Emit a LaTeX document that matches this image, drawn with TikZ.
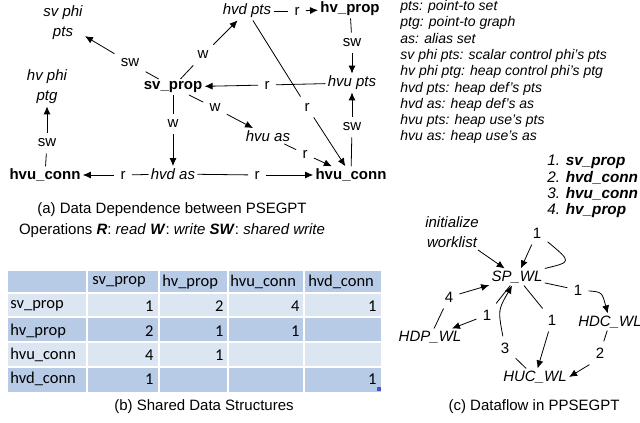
\documentclass[tikz,border=0pt]{standalone}
\usepackage{fontspec}
\setmainfont{Liberation Sans}
\newfontfamily\cellfont{Carlito}
\usetikzlibrary{arrows.meta,positioning}
\definecolor{celldark}{RGB}{183,202,230}
\definecolor{celllight}{RGB}{220,229,242}
\definecolor{handleblue}{RGB}{68,84,196}

\begin{document}
\begin{tikzpicture}[
  x=1pt, y=-1pt, line width=0.8pt,
  op/.style={font=\fontsize{15}{18}\selectfont\bfseries, inner sep=2pt},
  ds/.style={font=\fontsize{15}{20}\selectfont\itshape, inner sep=2pt, align=center},
  lbl/.style={font=\fontsize{15}{18}\selectfont, inner sep=6pt},
  dep/.style={-{Latex[length=8pt,width=7pt]}},
  subcap/.style={font=\fontsize{15}{21}\selectfont, align=center},
  cell/.style={font=\cellfont\fontsize{16.5}{19}\selectfont, inner sep=0pt}
]
\useasboundingbox (0,0) rectangle (640,423);

% (a) data dependence between operations
\node[ds] (svphi) at (63,23) {sv phi\\pts};
\node[ds] (hvphi) at (47,87) {hv phi\\ptg};
\node[ds] (hvdpts) at (247,11) {hvd pts};
\node[op] (hvprop) at (350,9) {hv\_prop};
\node[op] (svprop) at (173,87) {sv\_prop};
\node[ds] (hvupts) at (352,83) {hvu pts};
\node[ds] (hvuas) at (268,136) {hvu as};
\node[ds] (hvdas) at (173,174) {hvd as};
\node[op] (hvuconnL) at (45,175) {hvu\_conn};
\node[op] (hvuconnR) at (351,175) {hvu\_conn};

\node[lbl] (lsw1) at (130,63) {sw};
\node[lbl] (lw1) at (203,55) {w};
\node[lbl] (lr1) at (297,11) {r};
\node[lbl] (lsw2) at (352,43) {sw};
\node[lbl] (lr2) at (267,85) {r};
\node[lbl] (lw2) at (215,108) {w};
\node[lbl] (lw3) at (173,124) {w};
\node[lbl] (lr3) at (307,107) {r};
\node[lbl] (lsw3) at (352,127) {sw};
\node[lbl] (lr4) at (305,154) {r};
\node[lbl] (lr5) at (123,175) {r};
\node[lbl] (lr6) at (257,175) {r};
\node[lbl] (lsw4) at (47,143) {sw};

\draw (svprop) -- (lsw1); \draw[dep] (lsw1) -- (svphi);
\draw (svprop) -- (lw1); \draw[dep] (lw1) -- (hvdpts);
\draw (hvdpts) -- (lr1); \draw[dep] (lr1) -- (hvprop);
\draw (hvprop) -- (lsw2); \draw[dep] (lsw2) -- (hvupts);
\draw (hvupts) -- (lr2); \draw[dep] (lr2) -- (svprop);
\draw (svprop) -- (lw2); \draw[dep] (lw2) -- (hvuas);
\draw (svprop) -- (lw3); \draw[dep] (lw3) -- (hvdas);
\draw (hvdpts) -- (lr3); \draw[dep] (lr3) -- (hvuconnR);
\draw (hvuconnR) -- (lsw3); \draw[dep] (lsw3) -- (hvupts);
\draw (hvuas) -- (lr4); \draw[dep] (lr4) -- (hvuconnR);
\draw (hvdas) -- (lr5); \draw[dep] (lr5) -- (hvuconnL);
\draw (hvdas) -- (lr6); \draw[dep] (lr6) -- (hvuconnR);
\draw (hvuconnL) -- (lsw4); \draw[dep] (lsw4) -- (hvphi);

\node[subcap] (capa) at (172,220) {(a) Data Dependence between PSEGPT\\
  Operations \textbf{\textit{R}}: \textit{read} \textbf{\textit{W}}: \textit{write} \textbf{\textit{SW}}: \textit{shared write}};

% glossary and order
\node[anchor=north west, inner sep=0pt, align=left, font=\fontsize{14}{16.3}\selectfont\itshape] (gloss) at (400,0) {%
  pts: point-to set\\
  ptg: point-to graph\\
  as: alias set\\
  sv phi pts: scalar control phi's pts\\
  hv phi ptg: heap control phi's ptg\\
  hvd pts: heap def's pts\\
  hvd as: heap def's as\\
  hvu pts: heap use's pts\\
  hvu as: heap use's as};
\node[anchor=north west, inner sep=0pt, align=left, font=\fontsize{15.3}{16.3}\selectfont\itshape] (order) at (547,155) {%
  1. \textbf{sv\_prop}\\
  2. \textbf{hvd\_conn}\\
  3. \textbf{hvu\_conn}\\
  4. \textbf{hv\_prop}};

% (b) shared data structures
\fill[celldark] (8,271) rectangle (381,293);
\fill[celllight] (8,293) rectangle (381,317);
\fill[celldark] (8,317) rectangle (381,342);
\fill[celllight] (8,342) rectangle (381,367);
\fill[celldark] (8,367) rectangle (381,392);
\foreach \x in {87,159,228,304}
  \draw[white, line width=1.5pt] (\x,271) -- (\x,392);
\foreach \y in {293,317,342,367}
  \draw[white, line width=1.5pt] (8,\y) -- (381,\y);
\foreach \name/\x [count=\i] in {sv\_prop/92, hv\_prop/162, hvu\_conn/230, hvd\_conn/308}
  \node[cell, anchor=west] (col\i) at (\x,282) {\name};
\foreach \name/\y [count=\i] in {sv\_prop/306, hv\_prop/331, hvu\_conn/355, hvd\_conn/379}
  \node[cell, anchor=west] (row\i) at (10,\y) {\name};
\foreach \v/\x/\y [count=\i] in {1/154/306, 2/224/306, 4/300/306, 1/377/306,
    2/154/331, 1/224/331, 1/300/331, 4/154/355, 1/224/355, 1/154/379, 1/377/379}
  \node[cell, anchor=east] (val\i) at (\x,\y) {\v};
\fill[handleblue] (377,387) rectangle (381,391);
\node[subcap] (capb) at (204,407) {(b) Shared Data Structures};

% (c) dataflow between worklists
\node[ds] (init) at (452,232) {initialize\\worklist};
\node[ds] (spwl) at (517,277) {SP\_WL};
\node[ds] (hdpwl) at (430,337) {HDP\_WL};
\node[ds] (hdcwl) at (610,322) {HDC\_WL};
\node[ds] (hucwl) at (535,377) {HUC\_WL};

\node[lbl] (c1a) at (537,233) {1};
\node[lbl] (c1b) at (578,290) {1};
\node[lbl] (c1c) at (552,320) {1};
\node[lbl] (c1d) at (487,315) {1};
\node[lbl] (c2) at (600,353) {2};
\node[lbl] (c3) at (505,348) {3};
\node[lbl] (c4) at (449,297) {4};

\draw[dep] (init) -- (spwl);
\draw (spwl.north east) .. controls (572,262) .. (c1a); \draw[dep] (c1a) -- (spwl);
\draw (spwl) -- (c1b); \draw[dep] (c1b) .. controls (602,292) .. (hdcwl);
\draw (spwl) -- (c1c); \draw[dep] (c1c) -- (hucwl);
\draw (spwl) -- (c1d); \draw[dep] (c1d) -- (hdpwl);
\draw (hdcwl) -- (c2); \draw[dep] (c2.south west) -- (hucwl.east);
\draw (hucwl) -- (c3); \draw[dep] (c3) .. controls (498,310) .. (spwl);
\draw (hdpwl) -- (c4); \draw[dep] (c4) -- (spwl);

\node[subcap] (capc) at (534,407) {(c) Dataflow in PPSEGPT};
\end{tikzpicture}
\end{document}
